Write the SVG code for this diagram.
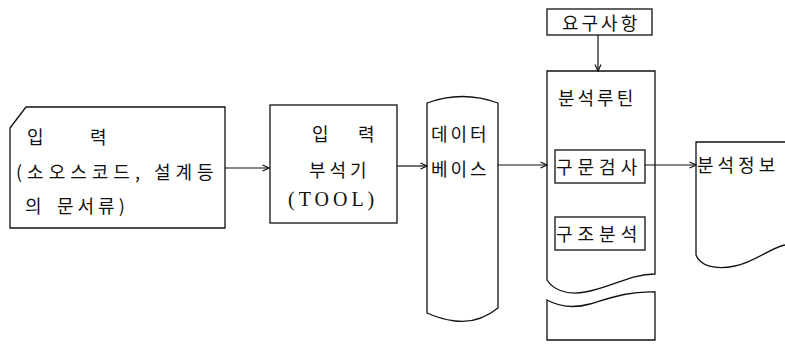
<svg xmlns="http://www.w3.org/2000/svg" width="785" height="344" viewBox="0 0 785 344">
  <style>
    .shape { fill: #fff; stroke: #111; stroke-width: 1.3; }
    .line { fill: none; stroke: #111; stroke-width: 1.2; }
    .t { font-family: "Noto Sans CJK KR", "Noto Sans", sans-serif; font-size: 18px; fill: #111; dominant-baseline: central; }
    .lat { font-family: "Liberation Serif", "Noto Sans CJK KR", serif; font-size: 20px; fill: #111; dominant-baseline: central; }
  </style>
  <defs>
    <marker id="arr" viewBox="0 0 8 8" refX="7.5" refY="4" markerWidth="8" markerHeight="8" markerUnits="userSpaceOnUse" orient="auto">
      <path d="M1,1 L7.5,4 L1,7" fill="none" stroke="#111" stroke-width="1.2"/>
    </marker>
  </defs>
  <rect width="785" height="344" fill="#fff"/>

  <!-- input documents (card with cut corner) -->
  <g id="input">
    <path class="shape" d="M10,128 L26,107 L225,107 L225,228 L10,228 Z"/>
    <text class="t" x="27" y="136">입</text>
    <text class="t" x="90" y="136">력</text>
    <text class="t" x="16" y="171" letter-spacing="5">(소오스코드,</text>
    <text class="t" x="154" y="171" letter-spacing="5">설계등</text>
    <text class="t" x="25" y="205">의</text>
    <text class="t" x="57" y="205" letter-spacing="4">문서류)</text>
  </g>

  <!-- input analyser tool -->
  <g id="tool">
    <rect class="shape" x="270" y="105" width="127" height="118"/>
    <text class="t" x="312" y="133">입</text>
    <text class="t" x="358" y="133">력</text>
    <text class="t" x="309" y="169" letter-spacing="4">부석기</text>
    <text class="lat" x="288" y="199" letter-spacing="4">(TOOL)</text>
  </g>

  <!-- database (storage drum) -->
  <g id="database">
    <path class="shape" d="M427,103 Q462,90 498,103 L498,308 Q478,324 455,321 Q440,319 427,313 Z"/>
    <text class="t" x="431" y="133" letter-spacing="3">데이터</text>
    <text class="t" x="431" y="168" letter-spacing="3">베이스</text>
  </g>

  <!-- requirements -->
  <g id="requirements">
    <rect class="shape" x="547" y="9" width="105" height="26"/>
    <text class="t" x="562" y="22" letter-spacing="3">요구사항</text>
  </g>

  <!-- analysis routine (torn page) -->
  <g id="routine">
    <path class="shape" d="M547,71 L655,71 L655,274 C630,274 612,287 585,292 C565,296 552,288 547,280 Z"/>
    <path class="shape" d="M547,300 C558,306 572,309 590,304 C610,298 628,291 655,292 L655,340 L547,340 Z"/>
    <text class="t" x="558" y="97" letter-spacing="3">분석루틴</text>
  </g>
  <g id="syntax-check">
    <rect class="shape" x="555" y="150" width="90" height="33"/>
    <text class="t" x="556" y="166" letter-spacing="5">구문검사</text>
  </g>
  <g id="structure-analysis">
    <rect class="shape" x="555" y="217" width="90" height="33"/>
    <text class="t" x="556" y="233" letter-spacing="5">구조분석</text>
  </g>

  <!-- analysis information (document) -->
  <g id="analysis-info">
    <path class="shape" d="M785,142 L696,142 L696,255 C700,266 715,270 735,266 C755,262 770,248 785,245"/>
    <text class="t" x="697" y="164" letter-spacing="4">분석정보</text>
  </g>

  <!-- connectors -->
  <g id="connectors">
    <line class="line" x1="225" y1="168" x2="269" y2="168" marker-end="url(#arr)"/>
    <line class="line" x1="397" y1="166" x2="427" y2="166" marker-end="url(#arr)"/>
    <line class="line" x1="498" y1="165" x2="547" y2="165" marker-end="url(#arr)"/>
    <line class="line" x1="645" y1="165" x2="696" y2="165" marker-end="url(#arr)"/>
    <line class="line" x1="598" y1="35" x2="598" y2="71" marker-end="url(#arr)"/>
  </g>
</svg>
